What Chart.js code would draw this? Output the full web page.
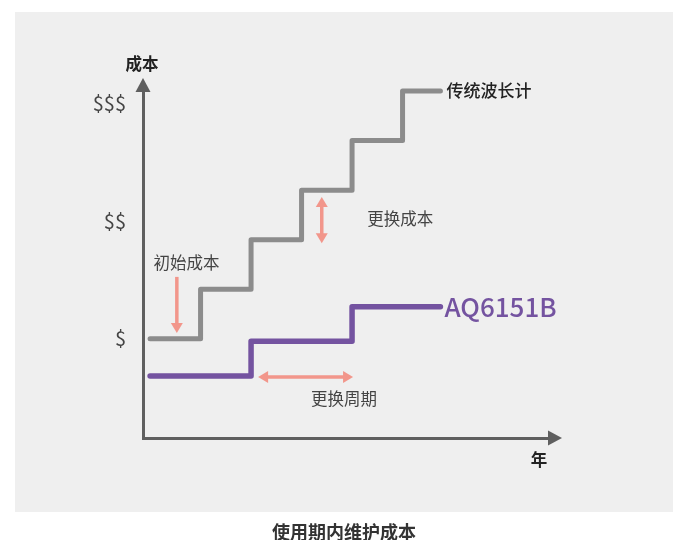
<!DOCTYPE html>
<html>
<head>
<meta charset="utf-8">
<script src="https://cdn.jsdelivr.net/npm/chart.js@4.4.1/dist/chart.umd.min.js"></script>
<style>
  html, body { margin: 0; padding: 0; background: #fff; }
  canvas { display: block; }
</style>
</head>
<body>
<canvas id="chart" width="677" height="540" style="width:677px;height:540px"></canvas>
<script>
// data
const years = [0, 1, 2, 3, 4, 5, 5.75];
const legacyCost = [2, 3, 4, 5, 6, 7, 7];
const aqYears = [0, 2, 4, 5.75];
const aqCost = [1.25, 1.95, 2.65, 2.65];
const costTicks = [2, 4.37, 6.75];
const costLabels = ['$', '$$', '$$$'];
const seriesNames = ['传统波长计', 'AQ6151B'];
const caption = '使用期内维护成本';

const FONT = '"Noto Sans CJK SC", "Noto Sans", sans-serif';
const AXIS = '#5f5f5f';
const SALMON = '#f2968b';
const GRAY = '#8c8c8c';
const PURPLE = '#7453a0';

function toPts(xs, ys) {
    return xs.map(function (x, i) { return { x: x, y: ys[i] }; });
}

function head(ctx, x, y, dx, dy, len, half) {
    // triangle with tip at (x, y) pointing along (dx, dy)
    ctx.beginPath();
    ctx.moveTo(x, y);
    ctx.lineTo(x - dx * len - dy * half, y - dy * len + dx * half);
    ctx.lineTo(x - dx * len + dy * half, y - dy * len - dx * half);
    ctx.closePath();
    ctx.fill();
}

function arrow(ctx, x1, y1, x2, y2, both) {
    let d = Math.hypot(x2 - x1, y2 - y1);
    let dx = (x2 - x1) / d, dy = (y2 - y1) / d;
    let hl = 10;
    ctx.strokeStyle = SALMON;
    ctx.fillStyle = SALMON;
    ctx.lineWidth = 3.5;
    ctx.beginPath();
    ctx.moveTo(both ? x1 + dx * hl * 0.8 : x1, both ? y1 + dy * hl * 0.8 : y1);
    ctx.lineTo(x2 - dx * hl * 0.8, y2 - dy * hl * 0.8);
    ctx.stroke();
    head(ctx, x2, y2, dx, dy, hl, 6);
    if (both) {
        head(ctx, x1, y1, -dx, -dy, hl, 6);
    }
}

function text(ctx, str, x, y, size, weight, color, align) {
    ctx.font = weight + ' ' + size + 'px ' + FONT;
    ctx.fillStyle = color;
    ctx.textAlign = align || 'center';
    ctx.textBaseline = 'middle';
    ctx.fillText(str, x, y);
}

const panelPlugin = {
    id: 'panel',
    beforeDraw(chart) {
        let ctx = chart.ctx;
        ctx.save();
        ctx.fillStyle = '#efefef';
        ctx.fillRect(15, 12, 658, 500);
        ctx.restore();
    }
};

const notesPlugin = {
    id: 'notes',
    afterDraw(chart) {
        let ctx = chart.ctx;
        let xs = chart.scales.x, ys = chart.scales.y;
        let a = chart.chartArea;
        let px = function (v) { return xs.getPixelForValue(v); };
        let py = function (v) { return ys.getPixelForValue(v); };
        ctx.save();

        // axis arrow heads
        ctx.fillStyle = AXIS;
        head(ctx, a.left, a.top - 13, 0, -1, 14, 7.5);
        head(ctx, a.right + 13, a.bottom, 1, 0, 14, 7.5);

        // axis titles
        text(ctx, '成本', a.left - 1, a.top - 27, 16.5, 'bold', '#222');
        text(ctx, '年', a.right - 10, a.bottom + 22, 16.5, 'bold', '#222');

        // series labels at the end of each line
        let lastL = legacyCost.length - 1, lastA = aqCost.length - 1;
        text(ctx, seriesNames[0], px(years[lastL]) + 6, py(legacyCost[lastL]), 17, '500', '#222', 'left');
        text(ctx, seriesNames[1], px(aqYears[lastA]) + 4, py(aqCost[lastA]), 26, '500', PURPLE, 'left');

        // initial cost
        text(ctx, '初始成本', px(0.72), py(3.53), 16.5, 'normal', '#444');
        arrow(ctx, px(0.53), py(3.25), px(0.53), py(2.12), false);

        // replacement cost
        text(ctx, '更换成本', px(4.3), py(4.42), 16.5, 'normal', '#444', 'left');
        arrow(ctx, px(3.4), py(4.86), px(3.4), py(3.93), true);

        // replacement period
        text(ctx, '更换周期', px(3.84), py(0.79), 16.5, 'normal', '#444');
        arrow(ctx, px(2.14), py(1.23), px(4.02), py(1.23), true);

        // caption under the panel
        text(ctx, caption, 344, 532, 18, 'bold', '#333');
        ctx.restore();
    }
};

new Chart(document.getElementById('chart'), {
    type: 'line',
    data: {
        datasets: [
            {
                label: seriesNames[0],
                data: toPts(years, legacyCost),
                borderColor: GRAY,
                borderWidth: 5,
                stepped: 'before',
                pointRadius: 0,
                borderCapStyle: 'round',
                borderJoinStyle: 'round',
                clip: false
            },
            {
                label: seriesNames[1],
                data: toPts(aqYears, aqCost),
                borderColor: PURPLE,
                borderWidth: 5.5,
                stepped: 'before',
                pointRadius: 0,
                borderCapStyle: 'round',
                borderJoinStyle: 'round',
                clip: false
            }
        ]
    },
    options: {
        responsive: false,
        animation: false,
        layout: { padding: { left: 0, top: 91, right: 128, bottom: 102 } },
        plugins: {
            legend: { display: false },
            tooltip: { enabled: false },
            title: { display: false }
        },
        scales: {
            x: {
                type: 'linear',
                min: -0.14,
                max: 7.9,
                grid: { display: false, drawTicks: false },
                ticks: { display: false },
                border: { color: AXIS, width: 3 },
                afterFit: function (s) { s.height = 0; }
            },
            y: {
                type: 'linear',
                min: 0,
                max: 7,
                grid: { display: false, drawTicks: false },
                border: { color: AXIS, width: 3 },
                afterBuildTicks: function (s) {
                    s.ticks = costTicks.map(function (v) { return { value: v }; });
                },
                ticks: {
                    padding: 17,
                    color: '#444',
                    font: { family: FONT, size: 20 },
                    callback: function (v, i) { return costLabels[i]; }
                },
                afterFit: function (s) { s.width = 143; }
            }
        }
    },
    plugins: [panelPlugin, notesPlugin]
});
</script>
</body>
</html>
